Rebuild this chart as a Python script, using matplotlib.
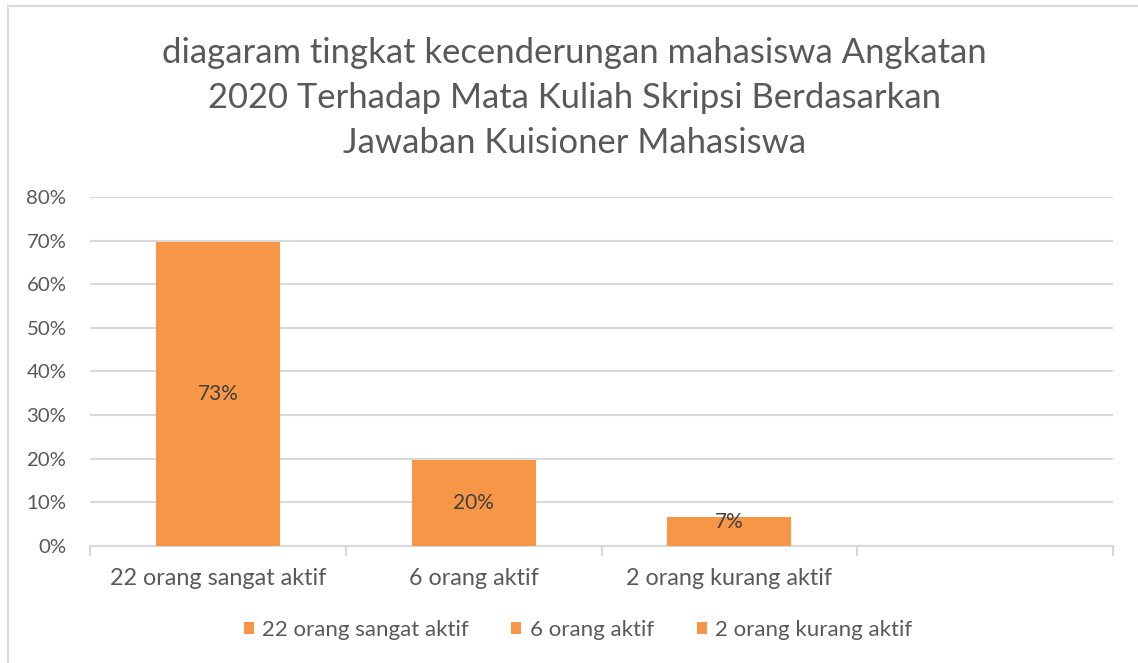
import matplotlib.pyplot as plt
from matplotlib.ticker import FixedLocator

plt.rcParams['font.family'] = ['Lato', 'DejaVu Sans']

# data
categories = ["22 orang sangat aktif", "6 orang aktif", "2 orang kurang aktif"]
bar_heights = [0.697, 0.197, 0.066]
bar_labels = ["73%", "20%", "7%"]
yticks = [0.0, 0.1, 0.2, 0.3, 0.4, 0.5, 0.6, 0.7, 0.8]
title = ("diagaram tingkat kecenderungan mahasiswa Angkatan\n"
         "2020 Terhadap Mata Kuliah Skripsi Berdasarkan\n"
         "Jawaban Kuisioner Mahasiswa")

orange = "#F79646"
grey_text = "#595959"
dark_text = "#404040"
line_col = "#D9D9D9"

fig = plt.figure(figsize=(11.38, 6.63), dpi=100)
ax = fig.add_axes([0.0791, 0.1765, 0.8990, 0.5264])

# chart frame (only top and left edges visible in the reference)
fig.add_artist(plt.Line2D([8 / 1138, 1], [1 - 6 / 663, 1 - 6 / 663],
                          transform=fig.transFigure, color=line_col, lw=1.5))
fig.add_artist(plt.Line2D([8 / 1138, 8 / 1138], [0, 1 - 6 / 663],
                          transform=fig.transFigure, color=line_col, lw=1.5))

for i, (cat, h, lab) in enumerate(zip(categories, bar_heights, bar_labels)):
    ax.bar(i, h, width=0.485, color=orange, label=cat, zorder=3)
    ax.text(i, max(h / 2, 0.055), lab, ha="center", va="center",
            fontsize=15, color=dark_text, zorder=4)

ax.set_xlim(-0.5, 3.5)
ax.set_ylim(0, 0.8)
ax.set_yticks(yticks)
ax.set_yticklabels([f"{int(round(t * 100))}%" for t in yticks])
ax.yaxis.grid(True, color=line_col, lw=1.5, zorder=0)
ax.tick_params(axis="y", length=0, labelsize=14.7, labelcolor=grey_text, pad=17)

ax.set_xticks(range(len(categories)))
ax.set_xticklabels(categories)
ax.xaxis.set_minor_locator(FixedLocator([-0.5, 0.5, 1.5, 2.5, 3.5]))
ax.tick_params(axis="x", which="major", length=0, labelsize=16.8,
               labelcolor=grey_text, pad=16)
ax.tick_params(axis="x", which="minor", length=7, width=1.5, color=line_col)

for s in ["top", "right", "left"]:
    ax.spines[s].set_visible(False)
ax.spines["bottom"].set_color(line_col)
ax.spines["bottom"].set_linewidth(1.5)

fig.text(0.505, 1 - 98 / 663, title, ha="center", va="center",
         fontsize=24.9, color=grey_text, linespacing=1.5)

leg = fig.legend(loc="center", bbox_to_anchor=(0.508, 1 - 630 / 663), ncol=3,
                 frameon=False, fontsize=16, labelcolor=grey_text,
                 handlelength=0.45, handleheight=0.45, handletextpad=0.4,
                 columnspacing=1.9)

fig.savefig("out.png", dpi=100, facecolor="white")
